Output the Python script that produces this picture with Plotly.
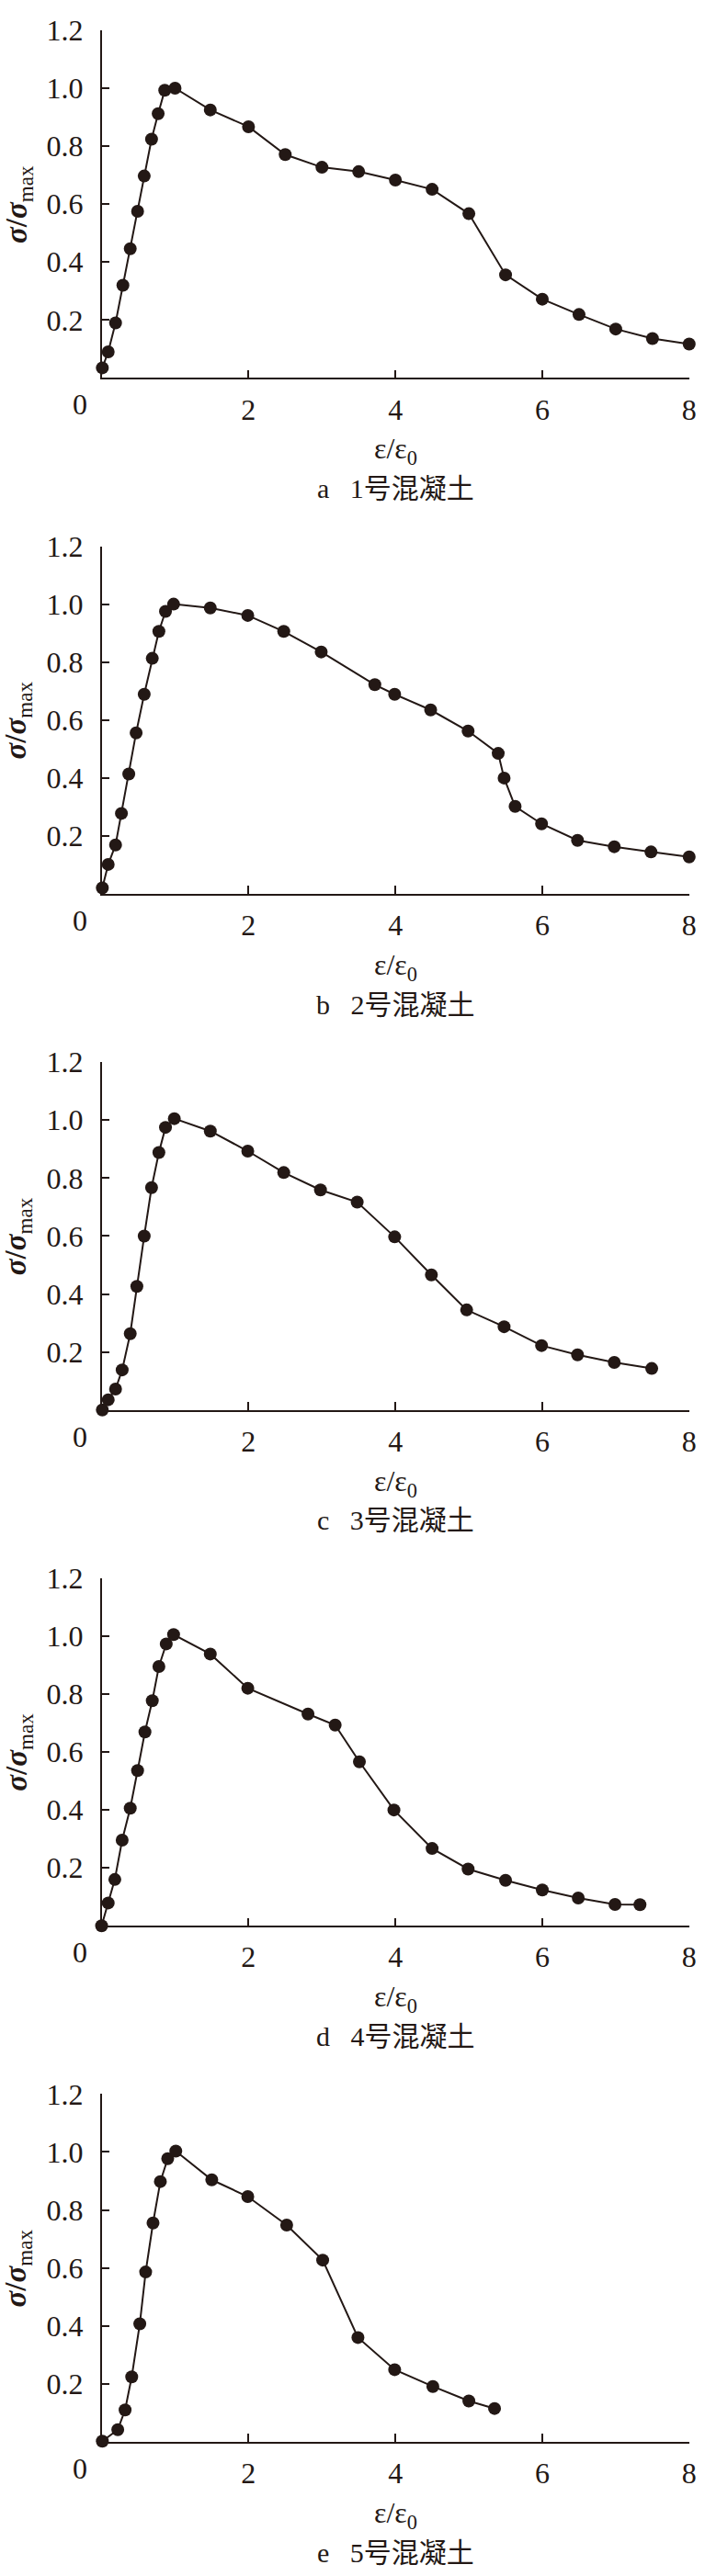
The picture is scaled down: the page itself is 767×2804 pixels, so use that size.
import plotly.graph_objects as go

# ---- data ----
x1 = [0.01,0.09,0.19,0.29,0.39,0.49,0.58,0.68,0.77,0.86,1.0,1.48,2.0,2.5,3.0,3.5,4.0,4.5,5.0,5.5,6.0,6.5,7.0,7.5,8.0]
y1 = [0.035,0.09,0.19,0.32,0.446,0.575,0.697,0.824,0.912,0.993,1.0,0.925,0.867,0.771,0.727,0.712,0.683,0.651,0.567,0.356,0.272,0.219,0.169,0.136,0.117]

x2 = [0.01,0.09,0.19,0.27,0.37,0.47,0.58,0.69,0.78,0.87,0.98,1.48,1.99,2.48,2.99,3.72,3.99,4.48,4.99,5.40,5.48,5.63,5.99,6.48,6.98,7.48,8.0]
y2 = [0.021,0.102,0.169,0.278,0.414,0.556,0.689,0.813,0.906,0.975,1.0,0.987,0.961,0.906,0.835,0.722,0.689,0.635,0.562,0.485,0.40,0.302,0.242,0.185,0.163,0.145,0.128]

x3 = [0.01,0.09,0.19,0.28,0.39,0.48,0.58,0.68,0.78,0.87,0.99,1.48,1.99,2.48,2.98,3.48,3.99,4.49,4.97,5.48,5.99,6.48,6.98,7.49]
y3 = [0.0,0.035,0.072,0.138,0.263,0.426,0.60,0.767,0.888,0.975,1.005,0.962,0.893,0.819,0.759,0.717,0.597,0.466,0.345,0.287,0.222,0.19,0.164,0.143]

x4 = [0.0,0.09,0.18,0.28,0.39,0.49,0.59,0.69,0.78,0.88,0.98,1.48,1.99,2.81,3.18,3.51,3.98,4.50,4.99,5.50,6.0,6.49,6.99,7.33]
y4 = [0.0,0.079,0.16,0.296,0.406,0.536,0.669,0.777,0.895,0.973,1.005,0.938,0.82,0.731,0.693,0.566,0.40,0.267,0.196,0.157,0.124,0.096,0.074,0.073]

x5 = [0.01,0.22,0.32,0.41,0.52,0.60,0.70,0.80,0.90,1.01,1.50,1.99,2.52,3.01,3.49,3.99,4.51,5.0,5.35]
y5 = [0.002,0.042,0.11,0.224,0.407,0.586,0.755,0.898,0.977,1.003,0.904,0.846,0.748,0.627,0.36,0.249,0.191,0.141,0.115]

captions = ["a\u00a0\u00a0\u00a01号混凝土", "b\u00a0\u00a0\u00a02号混凝土", "c\u00a0\u00a0\u00a03号混凝土",
            "d\u00a0\u00a0\u00a04号混凝土", "e\u00a0\u00a0\u00a05号混凝土"]
x_ticks = [2, 4, 6, 8]
y_ticks = [0.2, 0.4, 0.6, 0.8, 1.0, 1.2]
y_tick_text = ["0.2", "0.4", "0.6", "0.8", "1.0", "1.2"]

series = [(x1, y1), (x2, y2), (x3, y3), (x4, y4), (x5, y5)]

# ---- layout constants (pixels) ----
W, H = 767, 2804
LEFT, RIGHT = 111.7, 757.7
TOP0, BOT0, STEP = 15.0, 396.0, 565.25
INK = "#231815"
SERIF = "Liberation Serif, Noto Sans CJK SC, serif"

fig = go.Figure()
layout = dict(
    width=W, height=H, margin=dict(l=0, r=0, t=0, b=0),
    paper_bgcolor="white", plot_bgcolor="white", showlegend=False,
    font=dict(family=SERIF, color=INK),
)
annotations = []

for i, (xs, ys) in enumerate(series):
    n = "" if i == 0 else str(i + 1)
    top = TOP0 + STEP * i
    bot = BOT0 + STEP * i
    fig.add_trace(go.Scatter(
        x=xs, y=ys, mode="lines+markers", xaxis="x" + n, yaxis="y" + n,
        line=dict(color=INK, width=2),
        marker=dict(color=INK, size=14),
        cliponaxis=False, hoverinfo="skip",
    ))
    layout["xaxis" + n] = dict(
        domain=[LEFT / W, RIGHT / W], anchor="y" + n, range=[0, 8],
        tickvals=x_ticks, ticktext=[str(v) for v in x_ticks],
        ticks="inside", ticklen=9, tickwidth=1.5, tickcolor=INK,
        showline=True, linecolor=INK, linewidth=1.5,
        showgrid=False, zeroline=False,
        tickfont=dict(family=SERIF, size=32, color=INK),
        ticklabelstandoff=5, fixedrange=True,
    )
    layout["yaxis" + n] = dict(
        domain=[1 - bot / H, 1 - top / H], anchor="x" + n, range=[0, 1.2],
        tickvals=y_ticks, ticktext=y_tick_text,
        ticks="inside", ticklen=9, tickwidth=1.5, tickcolor=INK,
        showline=True, linecolor=INK, linewidth=1.5,
        showgrid=False, zeroline=False,
        tickfont=dict(family=SERIF, size=32, color=INK),
        ticklabelstandoff=12, fixedrange=True,
    )
    # origin label "0"
    annotations.append(dict(
        x=88 / W, y=1 - (bot + 29) / H, xref="paper", yref="paper",
        text="0", showarrow=False, xanchor="center", yanchor="middle",
        font=dict(family=SERIF, size=32, color=INK),
    ))
    # y title
    annotations.append(dict(
        x=20 / W, y=1 - (top + bot) / 2 / H, xref="paper", yref="paper",
        text="<b><i>σ</i>/<i>σ</i></b><sub>max</sub>", textangle=-90,
        showarrow=False, xanchor="center", yanchor="middle",
        font=dict(family=SERIF, size=33, color=INK),
    ))
    # x title
    annotations.append(dict(
        x=(LEFT + RIGHT) / 2 / W, y=1 - (bot + 80) / H, xref="paper", yref="paper",
        text="ε/ε<sub>0</sub>", showarrow=False, xanchor="center", yanchor="middle",
        font=dict(family=SERIF, size=32, color=INK),
    ))
    # caption
    annotations.append(dict(
        x=(LEFT + RIGHT) / 2 / W, y=1 - (bot + 121) / H, xref="paper", yref="paper",
        text=captions[i], showarrow=False, xanchor="center", yanchor="middle",
        font=dict(family=SERIF, size=30, color=INK),
    ))

layout["annotations"] = annotations
fig.update_layout(**layout)
fig.write_html(
    "out.html",
    config={"displayModeBar": False},
    post_script="document.body.style.margin='0';document.body.style.overflow='hidden';",
)
